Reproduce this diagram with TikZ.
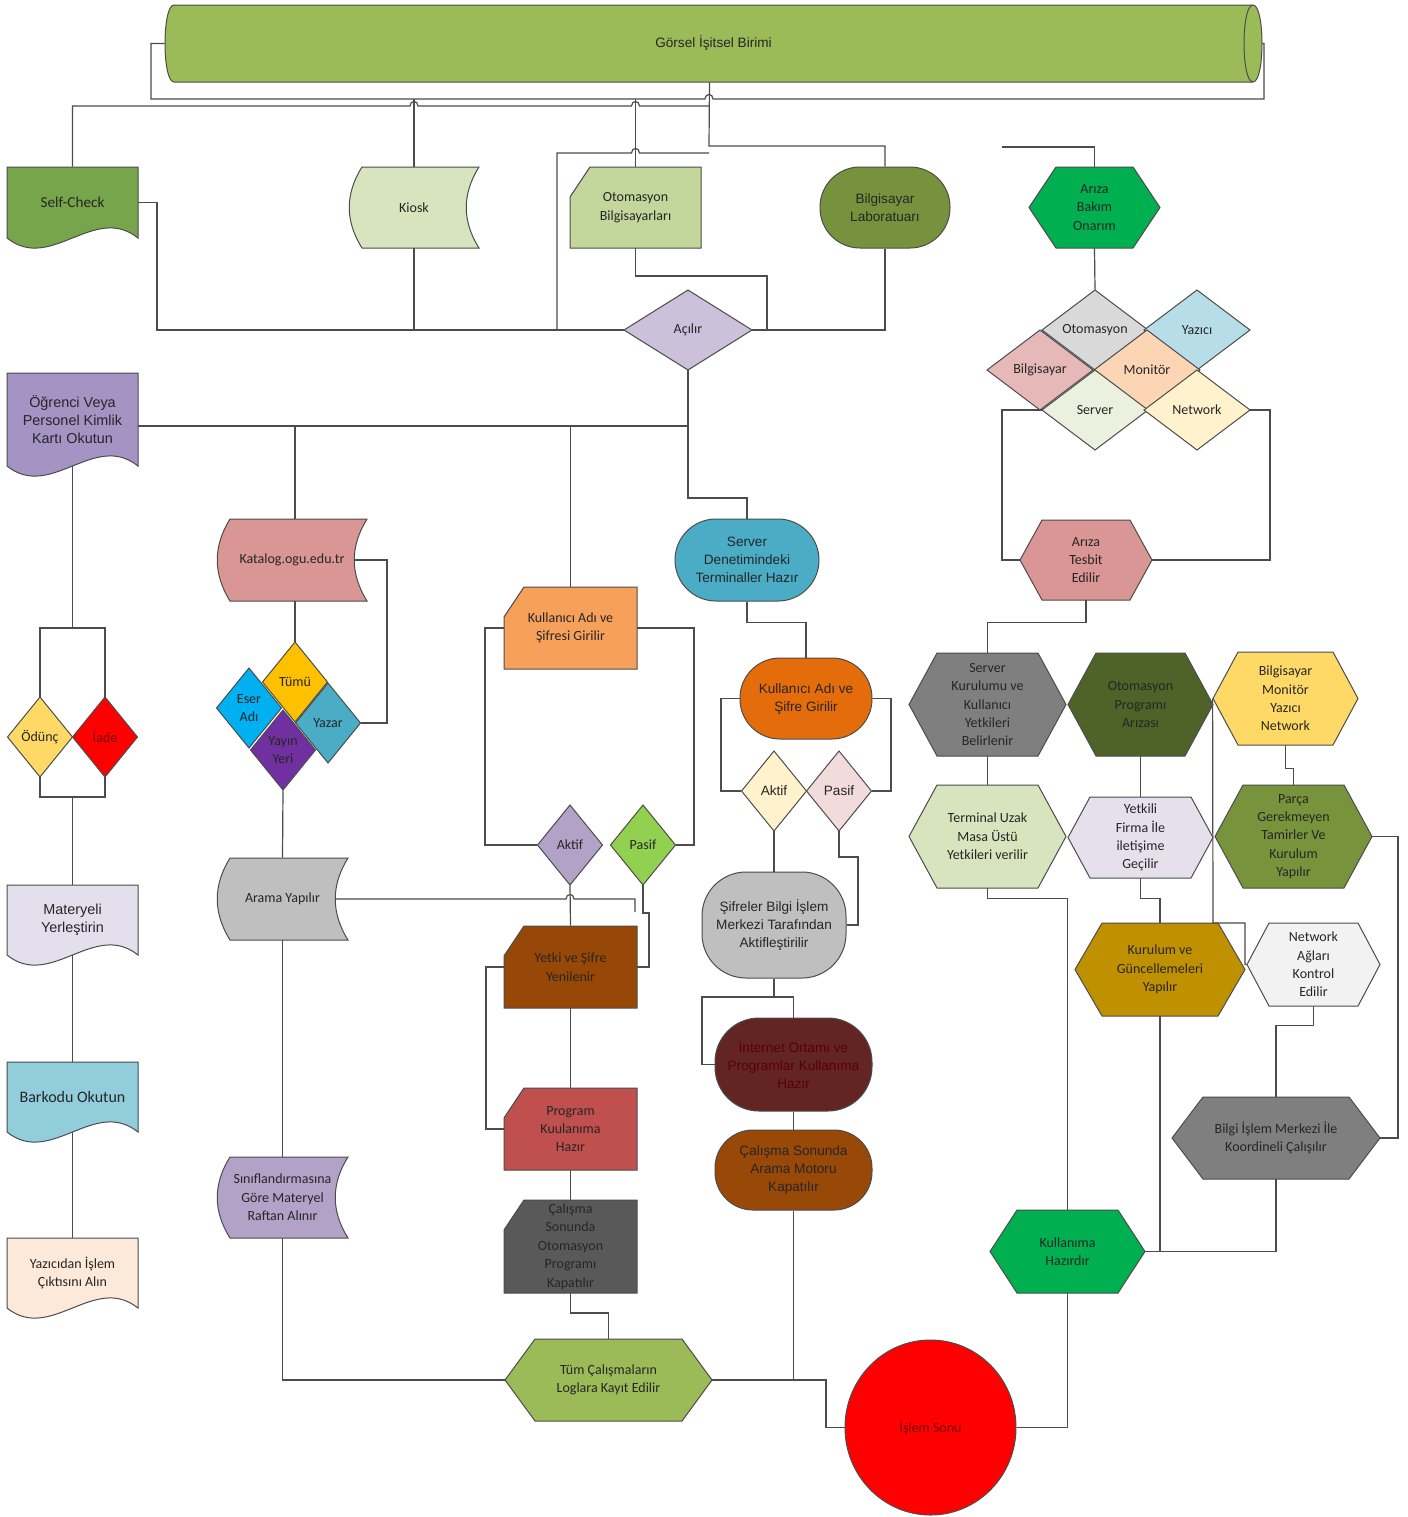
\documentclass[tikz,border=0pt]{standalone}
\usepackage{fontspec}
\setmainfont{Carlito}
\newfontfamily\arialfont{Liberation Sans}
\usepackage{tikz}
\usetikzlibrary{shapes.geometric}
\definecolor{colive}{HTML}{9BBB59}
\definecolor{cself}{HTML}{77A54B}
\definecolor{ckiosk}{HTML}{D7E4BD}
\definecolor{cotobil}{HTML}{C3D69B}
\definecolor{cbilab}{HTML}{76923C}
\definecolor{cgreen}{HTML}{00B050}
\definecolor{clav}{HTML}{CCC0DA}
\definecolor{cgray}{HTML}{D9D9D9}
\definecolor{cblue}{HTML}{B7DEE8}
\definecolor{crose}{HTML}{E6B9B8}
\definecolor{cpeach}{HTML}{FCD5B5}
\definecolor{cmint}{HTML}{EBF1DE}
\definecolor{ccream}{HTML}{FFF2CC}
\definecolor{cpurple}{HTML}{A593C4}
\definecolor{cyellow}{HTML}{FFD966}
\definecolor{cmauve}{HTML}{E4DFEC}
\definecolor{caqua}{HTML}{92CDDC}
\definecolor{cskin}{HTML}{FDE9D9}
\definecolor{csalmon}{HTML}{DA9694}
\definecolor{cgold}{HTML}{FFC000}
\definecolor{csky}{HTML}{00B0F0}
\definecolor{cteal}{HTML}{4BACC6}
\definecolor{cviolet}{HTML}{7030A0}
\definecolor{csilver}{HTML}{BFBFBF}
\definecolor{clilac}{HTML}{B3A2C7}
\definecolor{corange}{HTML}{F7A05A}
\definecolor{clime}{HTML}{92D050}
\definecolor{cbrown}{HTML}{974806}
\definecolor{cbrick}{HTML}{C0504D}
\definecolor{cdark}{HTML}{595959}
\definecolor{cpumpkin}{HTML}{E46C0A}
\definecolor{cblush}{HTML}{F2DCDB}
\definecolor{cmaroon}{HTML}{632523}
\definecolor{crust}{HTML}{984807}
\definecolor{cstone}{HTML}{7F7F7F}
\definecolor{cmoss}{HTML}{4F6228}
\definecolor{cpale}{HTML}{E6E0EC}
\definecolor{cfern}{HTML}{77933C}
\definecolor{cochre}{HTML}{BF9000}
\definecolor{csnow}{HTML}{F2F2F2}

\tikzset{
  shp/.style={draw=black!70, line width=0.5pt},
  conn/.style={draw=black!70, line width=0.6pt},
  lbl/.style={align=center, font=\fontsize{7}{9.2}\selectfont, text=black!85, inner sep=0pt},
  lbla/.style={lbl, font=\arialfont\fontsize{6.8}{9}\selectfont},
}

% document shape: [opts]{name}{x1}{y1}{x2}{base}{fill}{text}
\newcommand{\docbox}[8][]{%
  \filldraw[shp, fill=#7] (#3,#4) -- (#5,#4) -- (#5,#6)
    .. controls ({#5-(#5-#3)/3},{#6-35}) and ({#3+(#5-#3)/3},{#6+35}) .. (#3,#6) -- cycle;
  \node[lbl, minimum width={(#5-#3)*0.5pt}, minimum height={(#6-#4)*0.5pt}, #1]
    (#2) at ({(#3+#5)/2},{(#4+#6)/2}) {#8};}
% stored data shape
\newcommand{\storebox}[8][]{%
  \filldraw[shp, fill=#7] ({#3+13},#4) -- (#5,#4)
    .. controls ({#5-17},{#4+(#6-#4)/3}) and ({#5-17},{#6-(#6-#4)/3}) .. (#5,#6)
    -- ({#3+13},#6)
    .. controls ({#3-4},{#6-(#6-#4)/3}) and ({#3-4},{#4+(#6-#4)/3}) .. ({#3+13},#4) -- cycle;
  \node[lbl, minimum width={(#5-#3)*0.5pt}, minimum height={(#6-#4)*0.5pt}, #1]
    (#2) at ({(#3+#5)/2},{(#4+#6)/2}) {#8};}
% card shape
\newcommand{\cardbox}[8][]{%
  \filldraw[shp, fill=#7] (#3,{#4+30}) -- ({#3+20},#4) -- (#5,#4) -- (#5,#6) -- (#3,#6) -- cycle;
  \node[lbl, minimum width={(#5-#3)*0.5pt}, minimum height={(#6-#4)*0.5pt}, #1]
    (#2) at ({(#3+#5)/2},{(#4+#6)/2}) {#8};}
% diamond: [opts]{name}{cx}{cy}{w}{h}{fill}{text}
\newcommand{\diabox}[8][]{%
  \filldraw[shp, fill=#7] ({#3-#5/2},#4) -- (#3,{#4-#6/2}) -- ({#3+#5/2},#4) -- (#3,{#4+#6/2}) -- cycle;
  \node[lbl, minimum width={#5*0.5pt}, minimum height={#6*0.5pt}, #1] (#2) at (#3,#4) {#8};}
% hexagon: [opts]{name}{cx}{cy}{w}{h}{inset}{fill}{text}
\newcommand{\hexbox}[9][]{%
  \filldraw[shp, fill=#8] ({#3-#5/2},#4) -- ({#3-#5/2+#7},{#4-#6/2}) -- ({#3+#5/2-#7},{#4-#6/2})
    -- ({#3+#5/2},#4) -- ({#3+#5/2-#7},{#4+#6/2}) -- ({#3-#5/2+#7},{#4+#6/2}) -- cycle;
  \node[lbl, minimum width={#5*0.5pt}, minimum height={#6*0.5pt}, #1] (#2) at (#3,#4) {#9};}

\begin{document}
\begin{tikzpicture}[x=0.5pt, y=-0.5pt]
\fill[white] (0,0) rectangle (1408,1517);
\useasboundingbox (0,0) rectangle (1408,1517);

% top cylinder
\filldraw[shp, fill=colive] (174,5) -- (1253,5) .. controls (1265,5) and (1265,82) .. (1253,82)
  -- (174,82) .. controls (162,82) and (162,5) .. (174,5) -- cycle;
\draw[shp] (1253,5) .. controls (1241,5) and (1241,82) .. (1253,82);
\node[lbla, minimum width=548.5pt, minimum height=38.5pt] (gorsel) at (713.5,43.5) {Görsel İşitsel Birimi};

% first row
\docbox[font=\fontsize{7.6}{9.2}\selectfont]{selfcheck}{7}{167}{138}{238}{cself}{Self-Check}
\storebox{kiosk}{349}{167}{479}{248}{ckiosk}{Kiosk}
\cardbox{otobil}{570}{167}{701}{248}{cotobil}{Otomasyon\\Bilgisayarları}
\node[shp, lbla, fill=cbilab, rounded corners=20pt, minimum width=65pt, minimum height=40.5pt]
  (bilab) at (885,207.5) {Bilgisayar\\Laboratuarı};
\hexbox{ariza}{1094.5}{207.5}{131}{81}{27}{cgreen}{Arıza\\Bakım\\Onarım}
\diabox{acilir}{688}{330}{128}{80}{clav}{Açılır}

% fault type diamonds
\diabox{otod}{1095}{330}{106}{80}{cgray}{Otomasyon}
\diabox{yazd}{1197}{330}{106}{80}{cblue}{Yazıcı}
\diabox{bild}{1040}{370}{106}{80}{crose}{Bilgisayar}
\diabox{mond}{1147}{370}{106}{80}{cpeach}{Monitör}
\diabox{serd}{1095}{410}{106}{80}{cmint}{Server}
\diabox{netd}{1197}{410}{106}{80}{ccream}{Network}

% left column
\docbox[lbla, font=\arialfont\fontsize{7.2}{9}\selectfont]{ogrenci}{7}{373}{138}{466}{cpurple}{Öğrenci Veya\\Personel Kimlik\\Kartı Okutun}
\diabox{odunc}{40}{737}{65}{80}{cyellow}{Ödünç}
\diabox[text=red!45!black]{iade}{105}{737}{65}{80}{red}{İade}
\docbox[lbla, font=\arialfont\fontsize{7.2}{9}\selectfont]{materyel}{7}{885}{138}{955}{cmauve}{Materyeli\\Yerleştirin}
\docbox[font=\fontsize{8}{9.2}\selectfont]{barkod}{7}{1062}{138}{1132}{caqua}{Barkodu Okutun}
\docbox{yazici}{7}{1238}{138}{1308}{cskin}{Yazıcıdan İşlem\\Çıktısını Alın}

% catalogue column
\storebox{katalog}{217}{519}{367}{601}{csalmon}{Katalog.ogu.edu.tr}
\diabox{eser}{249}{708}{65}{80}{csky}{Eser\\Adı}
\diabox{tumu}{295}{682}{65}{80}{cgold}{Tümü}
\diabox{yayin}{283}{750}{65}{80}{cviolet}{Yayın\\Yeri}
\diabox{yazar}{328}{723}{65}{80}{cteal}{Yazar}
\storebox{arama}{217}{858}{348}{940}{csilver}{Arama Yapılır}
\storebox{sinif}{217}{1157}{348}{1238}{clilac}{Sınıflandırmasına\\Göre Materyel\\Raftan Alınır}

% automation column
\cardbox{kas}{504}{587}{637}{669}{corange}{Kullanıcı Adı ve\\Şifresi Girilir}
\diabox{aktif}{570}{845}{65}{80}{clilac}{Aktif}
\diabox{pasif}{643}{845}{65}{80}{clime}{Pasif}
\cardbox{yetki}{504}{926}{637}{1008}{cbrown}{Yetki ve Şifre\\Yenilenir}
\cardbox{prog}{504}{1088}{637}{1170}{cbrick}{Program\\Kuulanıma\\Hazır}
\cardbox{calot}{504}{1200}{637}{1293}{cdark}{Çalışma\\Sonunda\\Otomasyon\\Programı\\Kapatılır}
\hexbox{tum}{608.5}{1380}{207}{82}{30}{colive}{Tüm Çalışmaların\\Loglara Kayıt Edilir}

% terminal column
\node[shp, lbla, fill=cteal, rounded corners=20.5pt, minimum width=72pt, minimum height=41pt]
  (serverd) at (747,560) {Server\\Denetimindeki\\Terminaller Hazır};
\node[shp, lbla, fill=cpumpkin, rounded corners=20pt, minimum width=66pt, minimum height=40.5pt]
  (kasg) at (806,698.5) {Kullanıcı Adı ve\\Şifre Girilir};
\diabox[lbla]{aktif2}{774}{791}{65}{80}{ccream}{Aktif}
\diabox[lbla]{pasif2}{839}{791}{65}{80}{cblush}{Pasif}
\node[shp, lbla, fill=csilver, rounded corners=22pt, minimum width=72pt, minimum height=53pt]
  (sifreler) at (774,925) {Şifreler Bilgi İşlem\\Merkezi Tarafından\\Aktifleştirilir};
\node[shp, lbla, fill=cmaroon, text=red!35!black, rounded corners=22pt, minimum width=78.5pt, minimum height=46.5pt]
  (internet) at (793.5,1064.5) {İnternet Ortamı ve\\Programlar Kullanıma\\Hazır};
\node[shp, lbla, fill=crust, rounded corners=19pt, minimum width=78.5pt, minimum height=40pt]
  (camk) at (793.5,1170) {Çalışma Sonunda\\Arama Motoru\\Kapatılır};
\node[shp, lbl, ellipse, fill=red, text=red!45!black, minimum width=85.5pt, minimum height=87.5pt]
  (islem) at (930.5,1427.5) {İşlem Sonu};

% fault handling column
\hexbox{tesbit}{1086}{560}{132}{80}{22}{csalmon}{Arıza\\Tesbit\\Edilir}
\hexbox{serverk}{987.5}{704.5}{157}{103}{28}{cstone}{Server\\Kurulumu ve\\Kullanıcı\\Yetkileri\\Belirlenir}
\hexbox{otoprog}{1140.5}{704.5}{145}{103}{28}{cmoss}{Otomasyon\\Programı\\Arızası}
\hexbox{bmyn}{1285.5}{698.5}{145}{93}{25}{cyellow}{Bilgisayar\\Monitör\\Yazıcı\\Network}
\hexbox{terminal}{987.5}{836.5}{157}{103}{28}{ckiosk}{Terminal Uzak\\Masa Üstü\\Yetkileri verilir}
\hexbox{yetkili}{1140.5}{837.5}{145}{81}{22}{cpale}{Yetkili\\Firma İle\\iletişime\\Geçilir}
\hexbox{parca}{1293.5}{836.5}{157}{103}{28}{cfern}{Parça\\Gerekmeyen\\Tamirler Ve\\Kurulum\\Yapılır}
\hexbox{kurulum}{1160}{969.5}{170}{93}{27}{cochre}{Kurulum ve\\Güncellemeleri\\Yapılır}
\hexbox{network}{1313.5}{964.5}{133}{83}{22}{csnow}{Network\\Ağları\\Kontrol\\Edilir}
\hexbox{bilgi}{1276}{1138}{208}{82}{31}{cstone}{Bilgi İşlem Merkezi İle\\Koordineli Çalışılır}
\hexbox{kullanima}{1067.5}{1251.5}{155}{83}{27}{cgreen}{Kullanıma\\Hazırdır}

% connectors: top
\draw[conn] (gorsel.west) -- (151,43.5) -- (151,99) -- (705,99)
  .. controls (705,93) and (713,93) .. (713,99) -- (1264,99) -- (1264,43.5) -- (gorsel.east);
\draw[conn] (kiosk.north) -- (kiosk.north |- 0,99);
\draw[conn] (otobil.north) -- (otobil.north |- 0,99);
\draw[conn] (selfcheck.north) -- (72.5,106) -- (410,106) .. controls (410,100) and (418,100) .. (418,106)
  -- (631.5,106) .. controls (631.5,100) and (639.5,100) .. (639.5,106) -- (709,106);
\draw[conn] ([xshift=-2pt]gorsel.south) -- (709,146) -| (bilab.north);
\draw[conn] (709,153) -- (639.5,153) .. controls (639.5,147) and (631.5,147) .. (631.5,153)
  -- (557,153) -- (557,330);
\draw[conn] (selfcheck.east) -- (157,202.5) |- (acilir.west);
\draw[conn] (kiosk.south) -- (kiosk.south |- acilir.west);
\draw[conn] (otobil.south) |- (767,276) |- (acilir.east);
\draw[conn] (bilab.south) |- (767,330);

% connectors: left side
\draw[conn] (ogrenci.east |- 0,426) -- (688,426);
\draw[conn] (acilir.south) -- (688,498) -| (serverd.north);
\draw[conn] (ogrenci.south) -- (72.5,628);
\draw[conn] (odunc.north) -- (40,628) -- (105,628) -- (iade.north);
\draw[conn] (odunc.south) -- (40,797) -- (105,797) -- (iade.south);
\draw[conn] (72.5,797) -- (materyel.north);
\draw[conn] (materyel.south) -- (barkod.north);
\draw[conn] (barkod.south) -- (yazici.north);

% connectors: catalogue
\draw[conn] (295,426) -- (tumu.north |- katalog.north);
\draw[conn] (tumu.north |- katalog.south) -- (tumu.north);
\draw[conn] ([xshift=-6.5pt]katalog.east) -- (387,560) |- (yazar.east);
\draw[conn] (yayin.south) -- (arama.north);
\coordinate (aramaend) at (635,912);
\draw[conn] ([xshift=-6.5pt]arama.east) -- (566,899) .. controls (566,893) and (574,893) .. (574,899)
  -- (635,899) -- (aramaend);
\draw[conn] (arama.south) -- (sinif.north);
\draw[conn] (sinif.south) |- (tum.west);

% connectors: automation
\draw[conn] (570.5,426) -- (kas.north);
\draw[conn] (kas.west) -- (485,628) |- (aktif.west);
\draw[conn] (kas.east) -- (694,628) |- (pasif.east);
\draw[conn] (aktif.south) -- (yetki.north);
\draw[conn] (pasif.south) -- (643,913) -- (649,913) |- (yetki.east);
\draw[conn] (yetki.west) -- (486,967) |- (prog.west);
\draw[conn] (yetki.south) -- (prog.north);
\draw[conn] (prog.south) -- (calot.north);
\draw[conn] (calot.south) -- (570.5,1313) -| (tum.north);

% connectors: terminals
\draw[conn] (serverd.south) -- ++(0,21) -| (kasg.north);
\draw[conn] (kasg.west) -- (721,698.5) |- (aktif2.west);
\draw[conn] (kasg.east) -- (891,698.5) |- (pasif2.east);
\draw[conn] (aktif2.south) -- (sifreler.north);
\draw[conn] (pasif2.south) -- (839,857) -- (858,857) |- (sifreler.east);
\draw[conn] (sifreler.south) -- (774,997) -| (internet.north);
\draw[conn] (774,997) -- (702,997) |- (internet.west);
\draw[conn] (internet.south) -- (camk.north);
\draw[conn] (camk.south) -- (camk.south |- tum.east);
\draw[conn] (tum.east) -- (826,1380) |- (islem.west);
\draw[conn] (kullanima.south) |- (islem.east);

% connectors: fault handling
\coordinate (arizafree) at (1002,147);
\draw[conn] (ariza.north) |- (arizafree);
\draw[conn] (ariza.south) -- (otod.north);
\draw[conn] (serd.west) -- (1002,410) |- (tesbit.west);
\draw[conn] (netd.east) -- (1270,410) |- (tesbit.east);
\draw[conn] (tesbit.south) -- ++(0,22) -| (serverk.north);
\draw[conn] (serverk.south) -- (terminal.north);
\draw[conn] (otoprog.south) -- (yetkili.north);
\draw[conn] (bmyn.south) -- ++(0,23) -| (parca.north);
\draw[conn] (bmyn.west) -- (1213,923) -- (1245,923) |- (network.west);
\draw[conn] (terminal.south) -- ++(0,10) -| (kullanima.north);
\draw[conn] (yetkili.south) -- ++(0,20) -| (kurulum.north);
\draw[conn] (network.south) -- ++(0,19) -| (bilgi.north);
\draw[conn] (parca.east) -- (1398,836.5) |- (bilgi.east);
\draw[conn] (kurulum.south) -- (kurulum.south |- kullanima.east);
\draw[conn] (kullanima.east) -| (bilgi.south);
\end{tikzpicture}
\end{document}
